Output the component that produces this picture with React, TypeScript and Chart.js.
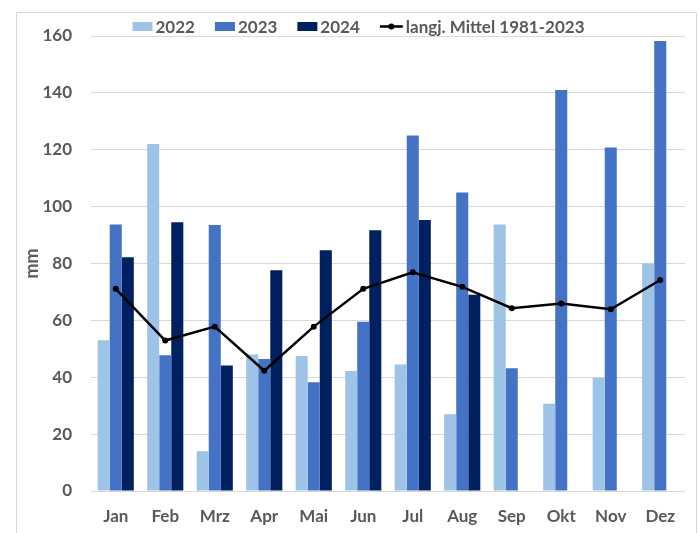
import { useEffect, useRef } from "react";
import { Chart, registerables } from "chart.js";

Chart.register(...registerables);

const months = ["Jan", "Feb", "Mrz", "Apr", "Mai", "Jun", "Jul", "Aug", "Sep", "Okt", "Nov", "Dez"];
const values2022 = [53, 122, 14, 48, 47.5, 42.2, 44.5, 27, 93.7, 30.7, 39.8, 80];
const values2023 = [93.7, 47.7, 93.5, 46.4, 38.2, 59.5, 125, 105, 43.2, 141, 120.8, 158.2];
const values2024 = [82.2, 94.5, 44.1, 77.6, 84.7, 91.7, 95.3, 69, null, null, null, null];
const meanValues = [71.1, 52.9, 57.8, 42.3, 57.8, 71.1, 76.9, 71.8, 64.3, 65.9, 63.9, 74.2];
const seriesLabels = ["2022", "2023", "2024", "langj. Mittel 1981-2023"];
const yMin = 0;
const yMax = 160;
const yStep = 20;
const yTitle = "mm";

const FONT = "Lato";
const TEXT = "#595959";
const GRID = "#d9d9d9";
const C2022 = "#9dc3e6";
const C2023 = "#4472c4";
const C2024 = "#002060";

const legendPlugin = {
  id: "customLegend",
  afterDraw(chart: any) {
    const ctx = chart.ctx as CanvasRenderingContext2D;
    const ds = chart.data.datasets;
    ctx.save();
    ctx.font = `bold 17px ${FONT}`;
    ctx.textBaseline = "middle";
    ctx.textAlign = "left";
    const y = 26.5;
    const gapText = 3;
    const gapItem = 20;
    const items = ds.map((d: any) => {
      const isLine = d.type === "line";
      const sw = isLine ? 23 : 20;
      const tw = ctx.measureText(d.label).width;
      return { d, isLine, sw, tw, w: sw + gapText + tw };
    });
    const total = items.reduce((s: number, it: any) => s + it.w, 0) + gapItem * (items.length - 1);
    let x = 358.5 - total / 2;
    for (const it of items) {
      if (it.isLine) {
        ctx.strokeStyle = it.d.borderColor;
        ctx.lineWidth = 2.5;
        ctx.beginPath();
        ctx.moveTo(x, y);
        ctx.lineTo(x + it.sw, y);
        ctx.stroke();
        ctx.fillStyle = it.d.borderColor;
        ctx.beginPath();
        ctx.arc(x + it.sw / 2, y, 3, 0, Math.PI * 2);
        ctx.fill();
      } else {
        ctx.fillStyle = it.d.backgroundColor;
        ctx.fillRect(x, y - 4.5, it.sw, 9);
      }
      ctx.fillStyle = TEXT;
      ctx.fillText(it.d.label, x + it.sw + gapText, y + 1);
      x += it.w + gapItem;
    }
    ctx.restore();
  },
};

export default function App() {
  const ref = useRef<HTMLCanvasElement | null>(null);
  useEffect(() => {
    if (!ref.current) return;
    const chart = new Chart(ref.current, {
      type: "bar",
      data: {
        labels: months,
        datasets: [
          { type: "bar", label: seriesLabels[0], data: values2022, backgroundColor: C2022, order: 2 },
          { type: "bar", label: seriesLabels[1], data: values2023, backgroundColor: C2023, order: 2 },
          { type: "bar", label: seriesLabels[2], data: values2024 as any, backgroundColor: C2024, order: 2 },
          {
            type: "line",
            label: seriesLabels[3],
            data: meanValues,
            borderColor: "#000000",
            backgroundColor: "#000000",
            borderWidth: 2.5,
            pointRadius: 3,
            pointBackgroundColor: "#000000",
            pointBorderWidth: 0,
            tension: 0,
            order: 1,
          } as any,
        ],
      },
      options: {
        responsive: false,
        animation: false,
        layout: { padding: { left: 20, right: 14, top: 36, bottom: 7 } },
        datasets: { bar: { categoryPercentage: 0.73, barPercentage: 1 } },
        plugins: { legend: { display: false }, tooltip: { enabled: false } },
        scales: {
          x: {
            grid: { display: false },
            border: { display: false },
            ticks: { color: TEXT, font: { family: FONT, size: 17, weight: "bold" }, padding: 7 },
            afterFit: (s: any) => { s.height = 35; },
          },
          y: {
            min: yMin,
            max: yMax,
            grid: { color: GRID, lineWidth: 1, drawTicks: false },
            border: { display: false },
            ticks: { stepSize: yStep, color: TEXT, font: { family: FONT, size: 17, weight: "bold" }, padding: 19 },
            title: { display: true, text: yTitle, color: TEXT, font: { family: FONT, size: 18, weight: "bold" }, padding: { top: 1, bottom: 0 } },
            afterFit: (s: any) => { s.width = 71; },
          },
        },
      },
      plugins: [legendPlugin],
    });
    return () => chart.destroy();
  }, []);
  return (
    <div>
      <div
        style={{
          position: "absolute",
          left: 16,
          top: 12,
          width: 681,
          height: 521,
          boxSizing: "border-box",
          border: `1px solid ${GRID}`,
          borderBottom: "none",
        }}
      />
      <canvas ref={ref} width={699} height={533} style={{ position: "absolute", left: 0, top: 0 }} />
    </div>
  );
}
